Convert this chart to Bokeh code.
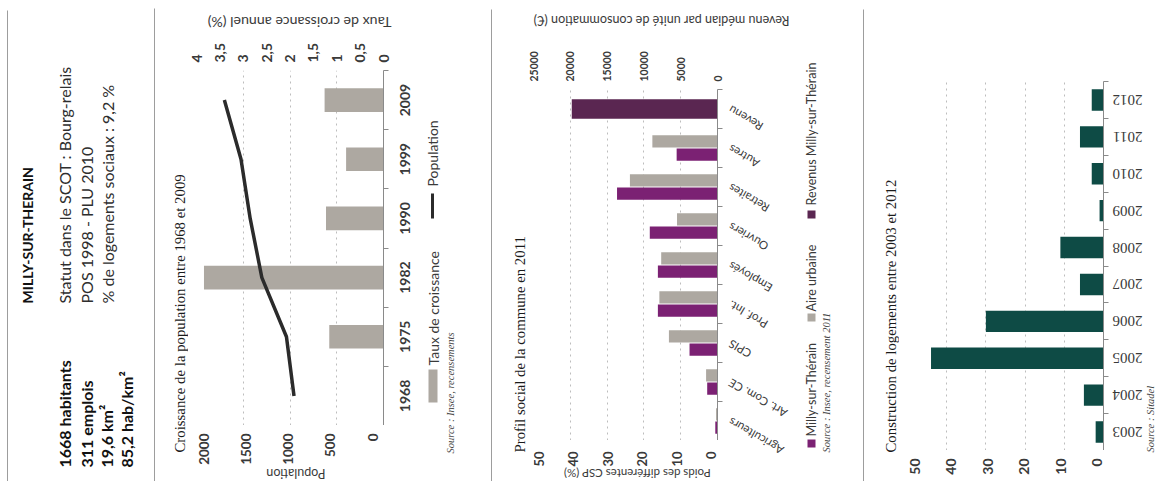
import math
import numpy as np
from bokeh.plotting import figure
from bokeh.models import Range1d, FixedTicker, CustomJSTickFormatter, Label, Grid
from bokeh.layouts import row, column
from bokeh.core.properties import value
from bokeh.embed import file_html
from bokeh.resources import INLINE

# ---------------- data ----------------
commune = "MILLY-SUR-THERAIN"
key_figures = ["1668 habitants", "311 emplois", "19,6 km²", "85,2 hab/km²"]
status_lines = ["Statut dans le SCOT : Bourg-relais", "POS 1998 - PLU 2010",
                "% de logements sociaux : 9,2 %"]

pop_years = ["1968", "1975", "1982", "1990", "1999", "2009"]
population = [957, 1038, 1301, 1426, 1524, 1702]
growth_rate = [np.nan, 1.16, 3.84, 1.23, 0.80, 1.26]
pop_ticks = [0, 500, 1000, 1500, 2000]
pop_tick_labels = ["0", "500", "1000", "1500", "2000"]
rate_ticks = [0, 0.5, 1, 1.5, 2, 2.5, 3, 3.5, 4]

csp_categories = ["Agriculteurs", "Art. Com. CE", "CPIS", "Prof. Int.", "Employés",
                  "Ouvriers", "Retraites", "Autres"]
csp_milly = [0.6, 2.8, 7.6, 16.2, 16.2, 18.4, 27.3, 11.1]
csp_aire = [0.4, 3.1, 13.2, 15.8, 15.3, 11.0, 23.8, 17.7]
revenue_label = "Revenu"
revenue_milly = 19800
csp_ticks = [0, 10, 20, 30, 40, 50]
csp_tick_labels = ["0", "10", "20", "30", "40", "50"]
revenue_ticks = [0, 5000, 10000, 15000, 20000, 25000]

housing_years = ["2003", "2004", "2005", "2006", "2007", "2008", "2009", "2010", "2011", "2012"]
housing_built = [2, 5, 44, 30, 6, 11, 1, 3, 6, 3]
housing_ticks = [0, 10, 20, 30, 40, 50]
housing_tick_labels = ["0", "10", "20", "30", "40", "50"]

# ---------------- style ----------------
GRAY = "#ada8a1"
PURPLE = "#7b2173"
DARKPURPLE = "#5a2651"
TEAL = "#0e4b45"
LINE = "#2b2b2b"
AXIS = "#8a8a8a"
GRID = "#bdbdbd"
TXT = "#3a3a3a"
SANS = "Lato"
SERIF = "Liberation Serif"
UP = math.pi / 2
FLIP = math.pi
TITLE_SIZE = 14.8


def box_fig(box, xmap=None, ymap=None):
    """Figure whose frame is the whole canvas; returns screen->data converters."""
    X0, Y0, w, h = box
    if xmap is None:
        xs, xe = X0, X0 + w
    else:
        Fl, Fr, vl, vr = xmap
        k = (vr - vl) / (Fr - Fl)
        xs, xe = vl - (Fl - X0) * k, vr + (X0 + w - Fr) * k
    if ymap is None:
        ys, ye = -(Y0 + h), -Y0
    else:
        Fb, Ft, vb, vt = ymap
        k = (vt - vb) / (Fb - Ft)
        ys, ye = vb - (Y0 + h - Fb) * k, vt + (Ft - Y0) * k
    p = figure(width=w, height=h, title=None, x_range=Range1d(xs, xe), y_range=Range1d(ys, ye),
               x_axis_location=None, y_axis_location=None, min_border=0,
               output_backend="svg", toolbar_location=None)
    p.grid.visible = False
    p.outline_line_color = None

    def fx(sx):
        return xs + (sx - X0) / w * (xe - xs)

    def fy(sy):
        return ys + (Y0 + h - sy) / h * (ye - ys)
    return p, fx, fy


def sep(w, h, color="#ffffff"):
    p = figure(width=w, height=h, title=None, x_axis_location=None, y_axis_location=None,
               min_border=0, output_backend="svg", toolbar_location=None,
               background_fill_color=color, border_fill_color=color)
    p.grid.visible = False
    p.outline_line_color = None
    return p


def lab(p, fx, fy, sx, sy, text, angle=0.0, align="left", baseline="middle",
        font=SANS, size=13, style="normal", color=TXT):
    p.add_layout(Label(x=fx(sx), y=fy(sy), text=text, angle=angle, text_align=align,
                       text_baseline=baseline, text_font=font, text_font_size=f"{size}px",
                       text_font_style=style, text_color=color))


def texts(p, xs, ys, labels, angle, align, font, size, style="normal", color=TXT):
    p.text(x=xs, y=ys, text=labels, angle=angle, text_align=value(align),
           text_baseline=value("middle"), text_font=value(font),
           text_font_size=value(f"{size}px"), text_font_style=value(style), text_color=color)


def key(p, fx, fy, l, r, t, b, color):
    p.quad(left=[fx(l)], right=[fx(r)], top=[fy(t)], bottom=[fy(b)],
           fill_color=color, line_color=None)


def chart_fig(w, h, xr, yr, borders, above=False):
    l, r, t, b = borders
    p = figure(width=w, height=h, title=None, x_range=xr, y_range=yr,
               x_axis_location="above" if above else None, y_axis_location="right",
               min_border_left=l, min_border_right=r, min_border_top=t, min_border_bottom=b,
               output_backend="svg", toolbar_location=None)
    p.grid.visible = False
    p.outline_line_color = None
    return p


def style_top_axis(ax, ticks, size, standoff, formatter=None):
    ax.ticker = FixedTicker(ticks=ticks)
    if formatter is not None:
        ax.formatter = formatter
    ax.major_label_orientation = "vertical"
    ax.axis_line_color = None
    ax.major_tick_line_color = None
    ax.minor_tick_line_color = None
    ax.major_tick_out = 0
    ax.major_tick_in = 0
    ax.major_label_standoff = standoff
    ax.major_label_text_font = SANS
    ax.major_label_text_font_size = f"{size}px"
    ax.major_label_text_font_style = "bold"
    ax.major_label_text_color = TXT


def style_cat_axis(ax, n):
    ax.ticker = FixedTicker(ticks=list(range(n)), minor_ticks=[i - 0.5 for i in range(n + 1)])
    ax.major_label_overrides = {i: "" for i in range(n)}
    ax.major_label_text_font_size = "0px"
    ax.major_label_standoff = 0
    ax.axis_line_color = AXIS
    ax.major_tick_line_color = None
    ax.major_tick_out = 0
    ax.major_tick_in = 0
    ax.minor_tick_line_color = AXIS
    ax.minor_tick_out = 5
    ax.minor_tick_in = 0


def add_grid(p, ticks, range_name="default"):
    p.add_layout(Grid(dimension=0, ticker=FixedTicker(ticks=ticks), x_range_name=range_name,
                      grid_line_dash="dotted", grid_line_color=GRID))


# ================= panel 1: info =================
p1, f1x, f1y = box_fig((8, 0, 146, 481))
lab(p1, f1x, f1y, 27, 303, commune, angle=UP, size=14, style="bold", color="#111111")
for xpos, line in zip([64, 86, 107], status_lines):
    lab(p1, f1x, f1y, xpos, 303, line, angle=UP, size=16, color="#2e2e2e")
for xpos, line in zip([64, 86, 106, 126], key_figures):
    lab(p1, f1x, f1y, xpos, 467, line, angle=UP, size=16, style="bold", color="#111111")

# ================= panel 2: population =================
F2 = (196, 383, 70, 425)  # frame left, right, top, bottom (page px)
t2, t2x, t2y = box_fig((155, 9, 336, 27))
lab(t2, t2x, t2y, 299, 22, "Taux de croissance annuel (%)", angle=FLIP, align="center", size=14.2)

l2, l2x, l2y = box_fig((155, 36, 33, 445))
lab(l2, l2x, l2y, 179, 452, "Croissance de la population entre 1968 et 2009", angle=UP,
    font=SERIF, size=TITLE_SIZE, color="#1a1a1a")

c2 = chart_fig(207, 389, Range1d(4, 0), Range1d(-0.5, 5.5), (8, 12, 34, 0), above=True)
c2.extra_x_ranges = {"pop": Range1d(2000, 0)}
style_top_axis(c2.xaxis[0], rate_ticks, 14, 8,
               CustomJSTickFormatter(code="return String(tick).replace('.', ',');"))
style_cat_axis(c2.yaxis[0], len(pop_years))
add_grid(c2, pop_ticks[1:], "pop")
idx2 = list(range(len(pop_years)))
c2.hbar(y=idx2, left=0, right=growth_rate, height=0.4, fill_color=GRAY, line_color=None)
c2.line(x=population, y=idx2, line_width=3.5, line_color=LINE, x_range_name="pop")

b2, b2x, b2y = box_fig((188, 425, 207, 56), xmap=(F2[0], F2[1], 2000, 0))
texts(b2, pop_ticks, [b2y(433)] * len(pop_ticks), pop_tick_labels, UP, "right", SANS, 13.5, "bold")
lab(b2, b2x, b2y, 298, 472.5, "Population", angle=FLIP, align="center", size=12.5)

r2, r2x, r2y = box_fig((395, 36, 96, 445), ymap=(F2[3], F2[2], -0.5, 5.5))
texts(r2, [r2x(404.5)] * len(pop_years), idx2, pop_years, UP, "center", SANS, 14, "bold")
key(r2, r2x, r2y, 428, 437, 369, 402, GRAY)
lab(r2, r2x, r2y, 433, 365, "Taux de croissance", angle=UP, size=14)
key(r2, r2x, r2y, 430.5, 433.5, 193, 218, LINE)
lab(r2, r2x, r2y, 432, 186, "Population", angle=UP, size=14)
lab(r2, r2x, r2y, 450, 453, "Source : Insee, recensements", angle=UP, font=SERIF, size=10.5,
    style="italic", color="#444444")

panel2 = column(t2, row(l2, column(c2, b2), r2))

# ================= panel 3: social profile =================
F3 = (533, 717, 89, 440)
t3, t3x, t3y = box_fig((492, 9, 371, 31))
lab(t3, t3x, t3y, 661, 20, "Revenu médian par unité de consommation (€)", angle=FLIP,
    align="center", size=12.6)

l3, l3x, l3y = box_fig((492, 40, 35, 441))
lab(l3, l3x, l3y, 519, 452, "Profil social de la commune en 2011", angle=UP,
    font=SERIF, size=TITLE_SIZE, color="#1a1a1a")

cat3 = csp_categories + [revenue_label]
c3 = chart_fig(197, 400, Range1d(25000, 0), Range1d(-0.5, 8.5), (6, 7, 49, 0), above=True)
c3.extra_x_ranges = {"pct": Range1d(50, 0)}
style_top_axis(c3.xaxis[0], revenue_ticks, 10.5, 8)
style_cat_axis(c3.yaxis[0], len(cat3))
add_grid(c3, csp_ticks[1:], "pct")
idx3 = np.arange(len(csp_categories))
c3.hbar(y=idx3 + 0.17, left=0, right=csp_aire, height=0.32, fill_color=GRAY, line_color=None,
        x_range_name="pct")
c3.hbar(y=idx3 - 0.17, left=0, right=csp_milly, height=0.32, fill_color=PURPLE, line_color=None,
        x_range_name="pct")
c3.hbar(y=[len(csp_categories)], left=0, right=[revenue_milly], height=0.5,
        fill_color=DARKPURPLE, line_color=None)

b3, b3x, b3y = box_fig((527, 440, 197, 41), xmap=(F3[0], F3[1], 50, 0))
texts(b3, csp_ticks, [b3y(451)] * len(csp_ticks), csp_tick_labels, UP, "right", SANS, 13, "bold")
lab(b3, b3x, b3y, 638, 473, "Poids des différentes CSP (%)", angle=FLIP, align="center", size=11.5)

r3, r3x, r3y = box_fig((724, 40, 139, 441), ymap=(F3[3], F3[2], -0.5, 8.5))
texts(r3, [r3x(729)] * len(cat3), list(range(len(cat3))), cat3, 2.62, "right", SANS, 11.5)
key(r3, r3x, r3y, 807, 815, 439, 447, PURPLE)
lab(r3, r3x, r3y, 811, 436, "Milly-sur-Thérain", angle=UP, size=12.5)
key(r3, r3x, r3y, 807, 815, 313, 321, GRAY)
lab(r3, r3x, r3y, 811, 311, "Aire urbaine", angle=UP, size=12.5)
key(r3, r3x, r3y, 807, 815, 210, 218, DARKPURPLE)
lab(r3, r3x, r3y, 811, 205, "Revenus Milly-sur-Thérain", angle=UP, size=12.5)
lab(r3, r3x, r3y, 826, 452, "Source : Insee, recensement 2011", angle=UP, font=SERIF,
    size=10.5, style="italic", color="#444444")

panel3 = column(t3, row(l3, column(c3, b3), r3))

# ================= panel 4: housing =================
F4 = (907, 1103, 81, 450)
l4, l4x, l4y = box_fig((864, 9, 35, 472))
lab(l4, l4x, l4y, 890, 452, "Construction de logements entre 2003 et 2012", angle=UP,
    font=SERIF, size=TITLE_SIZE, color="#1a1a1a")

c4 = chart_fig(211, 441, Range1d(50, 0), Range1d(-0.5, 9.5), (8, 7, 72, 0))
style_cat_axis(c4.yaxis[0], len(housing_years))
add_grid(c4, housing_ticks[1:])
idx4 = list(range(len(housing_years)))
c4.hbar(y=idx4, left=0, right=housing_built, height=0.58, fill_color=TEAL, line_color=None)

b4, b4x, b4y = box_fig((899, 450, 211, 31), xmap=(F4[0], F4[1], 50, 0))
texts(b4, housing_ticks, [b4y(458)] * len(housing_ticks), housing_tick_labels, UP, "right",
      SANS, 14, "bold")

r4, r4x, r4y = box_fig((1110, 9, 46, 472), ymap=(F4[3], F4[2], -0.5, 9.5))
texts(r4, [r4x(1142)] * len(housing_years), idx4, housing_years, FLIP, "left", SERIF, 15)
lab(r4, r4x, r4y, 1150, 452, "Source : Sitadel", angle=UP, font=SERIF, size=10.5,
    style="italic", color="#444444")

panel4 = row(l4, column(c4, b4), r4)

# ================= layout =================
VL = "#3c3c3c"
charts = row(panel2, sep(1, 472, VL), panel3, sep(1, 472, VL), panel4)
right_part = column(sep(1001, 7), sep(1001, 2, "#8f8f8f"), charts)
layout = row(sep(7, 481),
             column(sep(1, 10), sep(1, 471, VL)),
             p1,
             column(sep(1, 8), sep(1, 473, VL)),
             right_part)

open("out.html", "w").write(file_html(layout, INLINE))
